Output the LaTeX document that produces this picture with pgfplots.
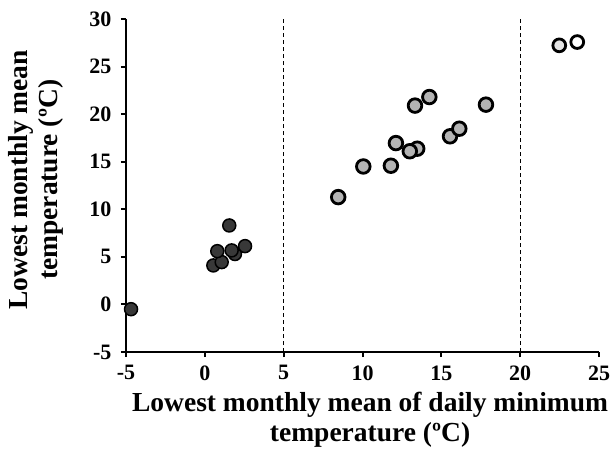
\documentclass[border=0pt]{standalone}
\usepackage{pgfplots}
\pgfplotsset{compat=1.18}
\usepackage{fontspec}
\setmainfont{Liberation Serif}
\definecolor{darkpt}{HTML}{383838}
\definecolor{graypt}{HTML}{B4B4B4}
\definecolor{lightpt}{HTML}{E4E4E4}
\begin{document}
\begin{tikzpicture}
\begin{axis}[
  scale only axis,
  width=473pt, height=333pt,
  xmin=-5, xmax=25, ymin=-5, ymax=30,
  xtick={-5,0,...,25}, ytick={-5,0,...,30},
  axis x line*=bottom, axis y line*=left,
  axis line style={line width=2.6pt, black, -},
  tick style={line width=2pt, black},
  major tick length=5pt,
  tick align=outside,
  /pgf/number format/assume math mode=true,
  ticklabel style={font=\fontsize{22}{24}\selectfont\bfseries},
  xticklabel style={yshift=-5pt},
  yticklabel style={xshift=-6pt},
  label style={font=\fontsize{27.5}{30}\selectfont\bfseries, align=center, inner sep=0pt},
  xlabel={Lowest monthly mean of daily minimum\\temperature (ºC)},
  ylabel={Lowest monthly mean\\temperature (ºC)},
  xlabel style={at={(axis description cs:0.516,0)}, anchor=north, yshift=-40pt},
  ylabel style={at={(axis description cs:0,0.517)}, anchor=north, rotate=0, yshift=118pt},
  clip=false,
]
\addplot[black, dashed, line width=0.8pt, dash pattern=on 4pt off 3pt] coordinates {(5,-5) (5,30)};
\addplot[black, dashed, line width=0.8pt, dash pattern=on 4pt off 3pt] coordinates {(20,-5) (20,30)};
% dark group
\addplot[only marks, mark=*, mark size=6.5pt, mark options={fill=darkpt, draw=black, line width=1.5pt}] coordinates {
(-4.68,-0.5) (1.55,8.3) (0.54,4.1) (1.07,4.45) (0.79,5.6) (1.91,5.3) (1.70,5.68) (2.55,6.13)
};
% gray group
\addplot[only marks, mark=*, mark size=6.8pt, mark options={fill=graypt, draw=black, line width=2.8pt}] coordinates {
(8.46,11.28) (10.05,14.5) (11.8,14.58) (12.12,16.96) (13.47,16.37) (13.0,16.1) (13.33,20.9) (14.24,21.8) (15.55,17.67) (16.14,18.47) (17.83,21.0)
};
% light group
\addplot[only marks, mark=*, mark size=6.4pt, mark options={fill=lightpt, draw=black, line width=2.8pt}] coordinates {(22.48,27.23)};
\addplot[only marks, mark=*, mark size=6.4pt, mark options={fill=white, draw=black, line width=2.8pt}] coordinates {(23.62,27.58)};
\end{axis}
\pgfresetboundingbox
\path (-126pt,-107pt) rectangle (484pt,352pt);
\end{tikzpicture}
\end{document}
